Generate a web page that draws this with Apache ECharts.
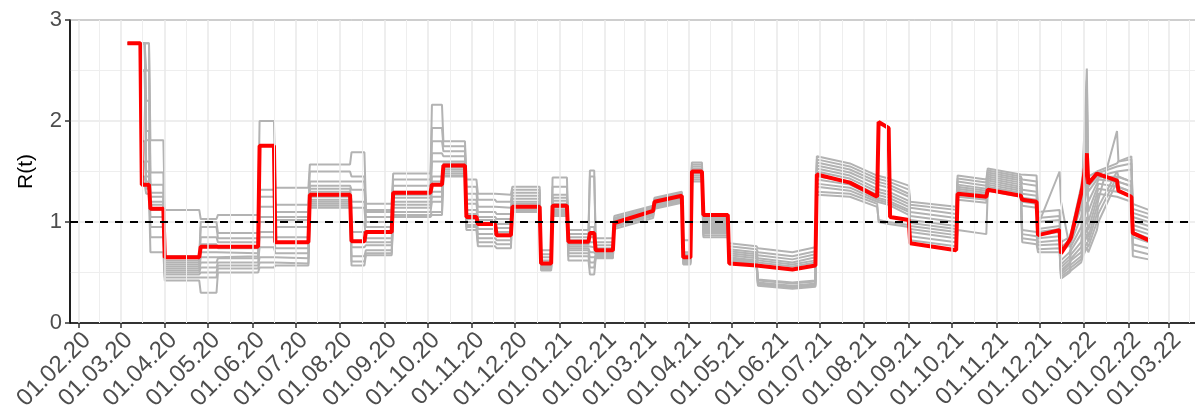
<!DOCTYPE html>
<html><head><meta charset="utf-8">
<script src="https://cdn.jsdelivr.net/npm/echarts@6/dist/echarts.min.js"></script>
<style>html,body{margin:0;padding:0;background:#fff}#c{width:1195px;height:416px}</style>
</head><body><div id="c"></div>
<script>
// ---------- data ----------
const monthTicks = ['2020-02-01','2020-03-01','2020-04-01','2020-05-01','2020-06-01','2020-07-01','2020-08-01','2020-09-01','2020-10-01','2020-11-01','2020-12-01',
  '2021-01-01','2021-02-01','2021-03-01','2021-04-01','2021-05-01','2021-06-01','2021-07-01','2021-08-01','2021-09-01','2021-10-01','2021-11-01','2021-12-01',
  '2022-01-01','2022-02-01','2022-03-01'];
const xRange = ['2020-01-26','2022-03-20'];
const yTicks = [0, 1, 2, 3];
const refLevel = 1;

// start date of each piece of the step curve (a piece runs until the day before the next start)
const segStarts = ['2020-03-06','2020-03-16','2020-03-19','2020-03-22','2020-04-01','2020-04-26','2020-05-08','2020-06-06','2020-06-17','2020-07-11',
  '2020-08-09','2020-08-19','2020-09-07','2020-10-04','2020-10-12','2020-10-28','2020-11-05','2020-11-18','2020-11-29','2020-12-19',
  '2020-12-27','2021-01-07','2021-01-22','2021-01-26','2021-02-08','2021-03-08','2021-03-28','2021-04-03','2021-04-11','2021-04-29',
  '2021-05-19','2021-06-13','2021-06-29','2021-07-23','2021-08-11','2021-08-19','2021-09-02','2021-10-05','2021-10-26','2021-11-19',
  '2021-11-30','2021-12-16','2021-12-23','2021-12-31','2022-01-04','2022-01-11','2022-01-25','2022-02-04'];
const seriesEnd = '2022-02-15';

// main estimate (red); [a,b] = value at start and end of the piece
const redLevels = [2.77,1.37,1.37,1.13,0.65,0.755,0.755,1.755,0.80,1.27,
  0.81,0.90,1.29,1.37,1.56,1.05,0.98,0.87,1.15,0.59,
  1.16,0.805,0.89,0.72,[0.99,1.11],[1.20,1.26],0.65,1.50,1.07,[0.59,0.57],
  [0.57,0.53],[0.53,0.57],[1.47,1.39],[1.38,1.25],[1.99,1.93],[1.05,1.02],[0.79,0.72],[1.28,1.25],[1.32,1.26],[1.22,1.20],
  [0.87,0.92],[0.69,0.82],[0.85,1.28],[1.35,1.68],[1.38,1.48],[1.49,1.41],[1.31,1.25],[0.89,0.82]];

// ensemble runs (grey): one row per piece, one column per run
const greyLevels = [
  [2.77,2.77,2.77,2.77,2.77,2.77,2.77,2.77,2.77,2.77,2.77,2.77],
  [2.77,2.77,2.77,2.77,2.77,2.77,2.5,2.5,1.8,1.6,1.45,1.38],
  [2.77,2.77,2.5,2.2,1.9,1.81,1.6,1.5,1.45,1.4,1.33,1.28],
  [1.81,1.49,1.37,1.29,1.25,1.20,1.17,1.12,1.05,0.95,0.85,0.70],
  [1.12,0.66,0.62,0.60,0.58,0.56,0.54,0.52,0.50,0.48,0.45,0.42],
  [1.03,1.0,0.95,0.85,0.78,0.70,0.65,0.60,0.55,0.50,0.45,0.30],
  [1.07,0.89,0.84,0.80,0.74,0.69,0.66,0.64,0.60,0.57,0.54,0.50],
  [2.00,1.32,1.25,1.15,1.05,1.0,0.9,0.85,0.75,0.65,0.60,0.55],
  [1.34,1.17,1.10,1.05,1.02,0.95,0.85,0.74,0.69,0.64,0.59,0.57],
  [1.57,1.50,1.40,1.36,1.33,1.30,1.25,1.22,1.20,1.18,1.16,1.14],
  [1.69,1.45,1.40,1.32,1.20,1.14,1.0,0.9,0.75,0.66,0.61,0.57],
  [1.18,1.12,1.10,1.05,1.0,0.95,0.84,0.80,0.77,0.72,0.69,0.67],
  [1.48,1.42,1.36,1.30,1.27,1.24,1.20,1.17,1.14,1.10,1.07,1.05],
  [2.16,1.93,1.80,1.68,1.60,1.45,1.40,1.30,1.25,1.20,1.10,1.07],
  [1.80,1.75,1.70,1.65,1.60,1.58,1.54,1.52,1.50,1.48,1.46,1.45],
  [1.42,1.35,1.28,1.22,1.18,1.12,1.08,1.03,1.0,0.97,0.95,0.92],
  [1.28,1.22,1.15,1.10,1.05,1.02,0.98,0.93,0.88,0.84,0.80,0.76],
  [1.27,1.20,1.14,1.08,1.03,0.98,0.94,0.90,0.86,0.82,0.78,0.74],
  [1.35,1.32,1.29,1.26,1.23,1.20,1.18,1.16,1.14,1.12,1.11,1.10],
  [0.72,0.68,0.65,0.62,0.60,0.58,0.57,0.56,0.55,0.54,0.53,0.52],
  [1.44,1.35,1.27,1.24,1.21,1.18,1.16,1.14,1.12,1.10,1.08,1.06],
  [0.92,0.88,0.85,0.82,0.80,0.78,0.76,0.74,0.72,0.69,0.66,0.62],
  [1.51,1.45,0.95,0.90,0.85,0.80,0.75,0.70,0.65,0.60,0.55,0.48],
  [0.84,0.80,0.77,0.74,0.72,0.70,0.69,0.68,0.67,0.66,0.65,0.64],
  [[1.06,1.16],[1.04,1.15],[1.03,1.14],[1.02,1.13],[1.01,1.12],[1.0,1.11],[0.99,1.10],[0.98,1.09],[0.97,1.08],[0.96,1.07],[0.95,1.06],[0.93,1.04]],
  [[1.24,1.30],[1.23,1.29],[1.22,1.28],[1.21,1.27],[1.20,1.26],[1.19,1.25],[1.18,1.24],[1.17,1.23],[1.16,1.22],[1.15,1.21],[1.14,1.20],[1.13,1.19]],
  [0.82,0.70,0.68,0.66,0.65,0.64,0.63,0.62,0.61,0.60,0.59,0.58],
  [1.59,1.57,1.55,1.53,1.52,1.51,1.49,1.48,1.46,1.44,1.42,1.40],
  [1.07,1.05,1.03,1.01,0.99,0.97,0.95,0.93,0.91,0.89,0.87,0.85],
  [[0.79,0.76],[0.76,0.73],[0.73,0.70],[0.71,0.68],[0.69,0.66],[0.67,0.64],[0.65,0.62],[0.64,0.61],[0.63,0.60],[0.62,0.59],[0.61,0.58],[0.60,0.57]],
  [[0.74,0.70],[0.70,0.66],[0.67,0.63],[0.64,0.60],[0.62,0.58],[0.60,0.56],[0.43,0.40],[0.42,0.39],[0.40,0.37],[0.39,0.36],[0.38,0.35],[0.37,0.34]],
  [[0.70,0.75],[0.66,0.71],[0.63,0.68],[0.60,0.65],[0.58,0.62],[0.56,0.60],[0.40,0.42],[0.39,0.41],[0.37,0.39],[0.36,0.38],[0.35,0.37],[0.34,0.36]],
  [[1.65,1.58],[1.62,1.55],[1.59,1.52],[1.56,1.49],[1.53,1.46],[1.50,1.43],[1.45,1.40],[1.42,1.37],[1.38,1.34],[1.35,1.31],[1.30,1.28],[1.27,1.25]],
  [[1.58,1.46],[1.55,1.43],[1.52,1.40],[1.49,1.37],[1.46,1.33],[1.43,1.30],[1.40,1.27],[1.37,1.24],[1.34,1.22],[1.31,1.20],[1.28,1.18],[1.25,1.15]],
  [[1.46,1.43],[1.43,1.40],[1.40,1.37],[1.37,1.34],[1.33,1.30],[1.30,1.27],[1.27,1.24],[1.24,1.21],[1.22,1.19],[1.20,1.17],[1.0,0.98],[1.02,1.0]],
  [[1.43,1.36],[1.40,1.32],[1.37,1.28],[1.34,1.25],[1.30,1.21],[1.27,1.18],[1.24,1.15],[1.21,1.12],[1.19,1.10],[1.17,1.07],[0.98,0.95],[1.0,0.97]],
  [[1.20,1.15],[1.17,1.12],[1.14,1.08],[1.10,1.04],[1.06,1.00],[1.02,0.96],[0.99,0.93],[0.96,0.90],[0.93,0.87],[0.90,0.84],[0.86,0.80],[0.82,0.76]],
  [[1.46,1.42],[1.43,1.39],[1.40,1.36],[1.37,1.33],[1.35,1.31],[1.33,1.29],[1.31,1.27],[1.29,1.26],[1.27,1.24],[1.25,1.22],[1.22,1.19],[0.92,0.88]],
  [[1.53,1.47],[1.51,1.45],[1.49,1.43],[1.47,1.41],[1.45,1.39],[1.43,1.37],[1.41,1.35],[1.39,1.33],[1.37,1.31],[1.35,1.29],[1.33,1.27],[1.31,1.25]],
  [[1.48,1.46],[1.42,1.40],[1.38,1.36],[1.32,1.30],[1.28,1.26],[1.24,1.22],[1.20,1.18],[1.16,1.14],[0.92,0.90],[0.88,0.86],[0.84,0.82],[0.80,0.78]],
  [[1.10,1.12],[1.04,1.06],[1.0,1.02],[0.97,1.5],[0.93,0.96],[0.90,0.93],[0.87,0.90],[0.84,0.86],[0.80,0.82],[0.77,0.78],[0.73,0.74],[0.70,0.70]],
  [[0.80,0.85],[0.75,0.82],[0.70,0.78],[1.2,0.75],[0.62,0.70],[0.58,0.66],[0.55,0.63],[0.52,0.60],[0.50,0.58],[0.48,0.55],[0.46,0.52],[0.44,0.50]],
  [[0.90,1.35],[0.88,1.25],[0.85,1.15],[0.80,1.05],[0.76,0.95],[0.72,0.88],[0.68,0.80],[0.64,0.75],[0.62,0.70],[0.58,0.66],[0.55,0.63],[0.52,0.60]],
  [[1.45,2.52],[1.35,2.40],[1.25,2.2],[1.15,1.9],[1.05,1.6],[0.98,1.4],[0.90,1.2],[0.84,1.05],[0.78,0.95],[0.72,0.88],[0.68,0.80],[0.65,0.75]],
  [[1.45,1.50],[1.40,1.48],[1.35,1.45],[1.30,1.42],[1.20,1.38],[1.10,1.33],[1.00,1.28],[0.92,1.22],[0.85,1.15],[0.80,1.08],[0.75,1.0],[0.70,0.92]],
  [[1.50,1.58],[1.48,1.55],[1.46,1.50],[1.44,1.45],[1.42,1.40],[1.38,1.35],[1.33,1.30],[1.28,1.25],[1.22,1.90],[1.15,1.50],[1.08,1.45],[1.00,1.40]],
  [[1.60,1.62],[1.55,1.58],[1.50,1.52],[1.45,1.40],[1.40,1.36],[1.35,1.30],[1.30,1.25],[1.25,1.20],[1.60,1.65],[1.45,1.40],[1.40,1.35],[1.35,1.30]],
  [[1.18,1.12],[1.13,1.08],[1.09,1.04],[1.05,1.0],[1.01,0.96],[0.97,0.92],[0.93,0.88],[0.90,0.84],[0.85,0.80],[0.78,0.74],[0.72,0.68],[0.66,0.63]]
];

// ---------- build ----------
const DAY = 86400000;
function toMs(s){ const p = s.split('-').map(Number); return Date.UTC(p[0], p[1]-1, p[2]); }
function buildLine(levels){
  const pts = [];
  for (let i = 0; i < segStarts.length; i++){
    const s = toMs(segStarts[i]);
    const e = i + 1 < segStarts.length ? toMs(segStarts[i+1]) - DAY : toMs(seriesEnd);
    const v = levels[i];
    const a = Array.isArray(v) ? v[0] : v, b = Array.isArray(v) ? v[1] : v;
    pts.push([s, a]);
    if (e > s || b !== a) pts.push([e, b]);
  }
  return pts;
}
const majorMs = monthTicks.map(toMs);
const minorMs = [];
for (let i = 0; i < majorMs.length - 1; i++) minorMs.push((majorMs[i] + majorMs[i+1]) / 2);
minorMs.push(majorMs[majorMs.length-1] + (majorMs[majorMs.length-1] - majorMs[majorMs.length-2]) / 2);

function pad(n){ return (n < 10 ? '0' : '') + n; }
function fmt(v){ const d = new Date(v); return pad(d.getUTCDate()) + '.' + pad(d.getUTCMonth()+1) + '.' + String(d.getUTCFullYear()).slice(2); }

const FONT = '"Liberation Sans", Arial, sans-serif';
const series = [];
series.push({
  type: 'line', data: [], z: 1, silent: true,
  markLine: {
    silent: true, symbol: 'none', label: {show: false}, animation: false,
    data: majorMs.map(v => ({xAxis: v, lineStyle: {color: '#e8e8e8', width: 1.5, type: 'solid'}}))
      .concat(minorMs.map(v => ({xAxis: v, lineStyle: {color: '#eeeeee', width: 1, type: 'solid'}})))
  }
});
const nRuns = greyLevels[0].length;
for (let k = 0; k < nRuns; k++){
  series.push({
    type: 'line', z: 2, silent: true, symbol: 'none', showSymbol: false,
    lineStyle: {color: '#b3b3b3', width: 2},
    data: buildLine(greyLevels.map(r => r[k]))
  });
}
series.push({
  type: 'line', data: [], z: 3, silent: true,
  markLine: {silent: true, symbol: 'none', label: {show: false}, animation: false,
    lineStyle: {color: '#000', width: 2, type: [8, 7]}, data: [{yAxis: refLevel}]}
});
series.push({
  type: 'line', z: 4, silent: true, symbol: 'none', showSymbol: false,
  lineStyle: {color: '#ff0000', width: 4},
  data: buildLine(redLevels)
});

const chart = echarts.init(document.getElementById('c'), null, {renderer: 'canvas'});
chart.setOption({
  animation: false,
  backgroundColor: '#fff',
  grid: {left: 70, right: -1, top: 20, bottom: 93, show: true, borderColor: '#000', borderWidth: 1, backgroundColor: 'transparent', containLabel: false, outerBoundsMode: 'none'},
  xAxis: {
    type: 'value', min: toMs(xRange[0]), max: toMs(xRange[1]),
    axisLine: {show: true, onZero: false, lineStyle: {color: '#000', width: 1.5}},
    axisTick: {show: true, customValues: majorMs, length: 5, lineStyle: {color: '#333', width: 1.5}},
    axisLabel: {customValues: majorMs, rotate: 45, align: 'right', verticalAlign: 'top', formatter: v => fmt(v), fontSize: 24, color: '#4d4d4d', fontFamily: FONT, margin: 5, hideOverlap: false, showMinLabel: true, showMaxLabel: true},
    splitLine: {show: false}
  },
  yAxis: {
    type: 'value', min: yTicks[0], max: yTicks[yTicks.length-1], interval: 1,
    name: 'R(t)', nameLocation: 'middle', nameGap: 33, nameRotate: 90,
    nameTextStyle: {fontSize: 21, color: '#000', fontFamily: FONT},
    axisLine: {show: true, lineStyle: {color: '#000', width: 1.5}},
    axisTick: {show: true, length: 5, lineStyle: {color: '#333', width: 1.5}},
    axisLabel: {fontSize: 22, color: '#4d4d4d', fontFamily: FONT, margin: 8},
    splitLine: {show: true, lineStyle: {color: '#e8e8e8', width: 1.5}},
    minorTick: {show: false, splitNumber: 2},
    minorSplitLine: {show: true, lineStyle: {color: '#eeeeee', width: 1}}
  },
  series: series
});
</script></body></html>
